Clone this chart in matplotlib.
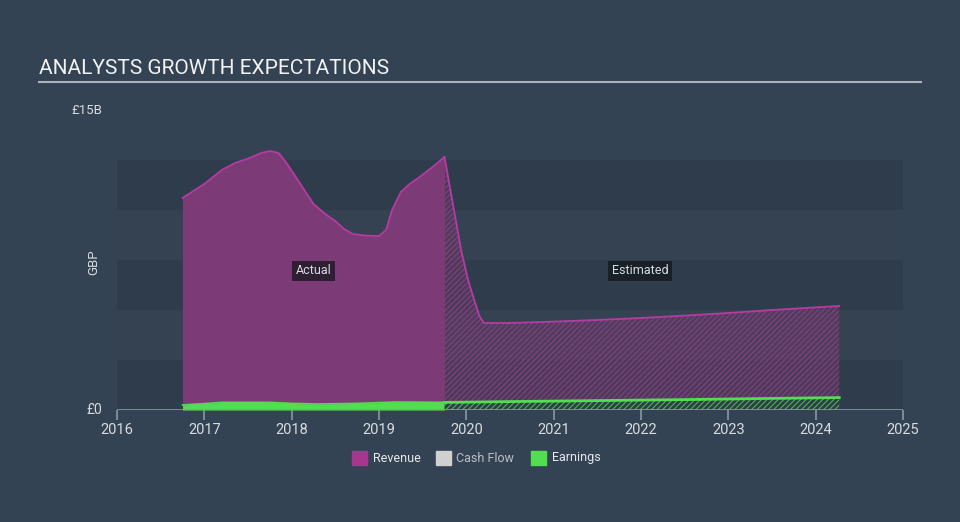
import matplotlib
matplotlib.use("Agg")
import matplotlib.pyplot as plt
from matplotlib.patches import Rectangle
import numpy as np

plt.rcParams['font.family'] = ['Roboto', 'DejaVu Sans']
plt.rcParams['hatch.linewidth'] = 0.8

# ---------------- data (GBP billions) ----------------
rev_act_x = [2016.75, 2017.0, 2017.2, 2017.35, 2017.52, 2017.65, 2017.75, 2017.85, 2017.95,
             2018.1, 2018.25, 2018.4, 2018.5, 2018.6, 2018.7, 2018.85, 2019.0, 2019.08,
             2019.15, 2019.25, 2019.35, 2019.45, 2019.6, 2019.75]
rev_act_y = [10.6, 11.3, 12.0, 12.35, 12.6, 12.85, 12.95, 12.85, 12.3,
             11.3, 10.3, 9.75, 9.45, 9.05, 8.8, 8.72, 8.7, 9.0,
             10.0, 10.9, 11.3, 11.6, 12.1, 12.65]
rev_est_x = [2019.75, 2019.85, 2019.94, 2020.02, 2020.09, 2020.15, 2020.2, 2020.5,
             2021.0, 2021.5, 2022.0, 2022.5, 2023.0, 2023.5, 2024.0, 2024.27]
rev_est_y = [12.65, 10.2, 8.0, 6.5, 5.5, 4.7, 4.35, 4.35,
             4.42, 4.5, 4.6, 4.72, 4.85, 5.0, 5.13, 5.2]
earn_act_x = [2016.75, 2017.0, 2017.2, 2017.75, 2018.0, 2018.3, 2018.75, 2019.2, 2019.75]
earn_act_y = [0.25, 0.32, 0.38, 0.38, 0.33, 0.30, 0.33, 0.40, 0.38]
earn_est_x = [2019.75, 2020.5, 2021.5, 2022.5, 2023.5, 2024.27]
earn_est_y = [0.38, 0.42, 0.47, 0.52, 0.58, 0.62]
year_ticks = [2016, 2017, 2018, 2019, 2020, 2021, 2022, 2023, 2024, 2025]
legend_names = ["Revenue", "Cash Flow", "Earnings"]

# ---------------- style ----------------
BG = "#344353"
BAND_DARK = "#2f3c4b"
REV_FILL = "#7c3a77"
REV_LINE = "#b43ca3"
REV_LEG = "#a8368f"
EARN = "#52de50"
CF = "#d0d0d0"
TXT = "#d7dbe0"
AXIS = "#8d98a5"

W, H = 960, 522
fig = plt.figure(figsize=(W / 100, H / 100), dpi=100, facecolor=BG)

def fx(px):
    return px / W

def fy(py):
    return 1 - py / H

ax = fig.add_axes([fx(117), fy(410), fx(903) - fx(117), fy(110) - fy(410)])
ax.set_facecolor(BG)
ax.set_xlim(2016, 2025)
ax.set_ylim(0, 15)
for s in ax.spines.values():
    s.set_visible(False)

# horizontal bands
for i, (lo, hi) in enumerate([(0, 2.5), (2.5, 5), (5, 7.5), (7.5, 10), (10, 12.5)]):
    col = BAND_DARK if i % 2 == 0 else "#344251"
    ax.axhspan(lo, hi, color=col, lw=0, zorder=0)

# revenue actual
ax.fill_between(rev_act_x, 0, rev_act_y, color=REV_FILL, lw=0, zorder=1)
ax.plot(rev_act_x, rev_act_y, color=REV_LINE, lw=1.3, zorder=3, solid_joinstyle='round')
# revenue estimated (hatched)
ax.fill_between(rev_est_x, 0, rev_est_y, facecolor=(0.45, 0.22, 0.44, 0.45), lw=0, zorder=1)
ax.fill_between(rev_est_x, 0, rev_est_y, facecolor='none', edgecolor="#85407f", hatch='//////', lw=0, zorder=1)
ax.plot(rev_est_x, rev_est_y, color=REV_LINE, lw=1.3, zorder=3, solid_joinstyle='round')

# earnings actual
ax.fill_between(earn_act_x, 0, earn_act_y, color=EARN, lw=0, zorder=2)
ax.plot(earn_act_x, earn_act_y, color=EARN, lw=1.2, zorder=3)
# earnings estimated
ax.fill_between(earn_est_x, 0, earn_est_y, facecolor=BAND_DARK, lw=0, zorder=2)
ax.fill_between(earn_est_x, 0, earn_est_y, facecolor='none', edgecolor="#47b848", hatch='//////', lw=0, zorder=2)
ax.plot(earn_est_x, earn_est_y, color=EARN, lw=2.0, zorder=3)

# x axis
ax.axhline(0, color=AXIS, lw=1.2, zorder=4)
ax.set_xticks(year_ticks)
ax.set_xticklabels([str(y) for y in year_ticks])
ax.tick_params(axis='x', colors=AXIS, length=7, width=1.2, labelcolor=TXT, labelsize=10.5, pad=2)
ax.set_yticks([])

# annotations
box = dict(boxstyle='square,pad=0.3', fc=(0.08, 0.09, 0.11, 0.75), ec='none')
ax.text(2018.25, 6.95, "Actual", color=TXT, fontsize=9, ha='center', va='center', bbox=box, zorder=6)
ax.text(2021.99, 6.95, "Estimated", color=TXT, fontsize=9, ha='center', va='center', bbox=box, zorder=6)

# y labels
fig.text(fx(102), fy(410), "£0", color=TXT, fontsize=10, ha='right', va='center')
fig.text(fx(102), fy(110), "£15B", color=TXT, fontsize=9.5, ha='right', va='center')
fig.text(fx(94), fy(262), "GBP", color=TXT, fontsize=9.5, ha='center', va='center', rotation=90)

# title
fig.text(fx(39), fy(68), "ANALYSTS GROWTH EXPECTATIONS", color="#f0f2f4", fontsize=15, ha='left', va='center')
fig.add_artist(plt.Line2D([fx(39), fx(921)], [fy(82), fy(82)], color="#aab2bb", lw=1.5))

# legend
items = [(352, REV_LEG, legend_names[0], 373, "#e6e8ea"),
         (436, CF, legend_names[1], 456, "#b9bfc6"),
         (531, EARN, legend_names[2], 552, "#e6e8ea")]
for sx, c, name, tx, tc in items:
    fig.add_artist(Rectangle((fx(sx), fy(465)), fx(15), fy(451) - fy(465), color=c, transform=fig.transFigure))
    fig.text(fx(tx), fy(458), name, color=tc, fontsize=9, ha='left', va='center')

fig.savefig("out.png", dpi=100, facecolor=BG)
